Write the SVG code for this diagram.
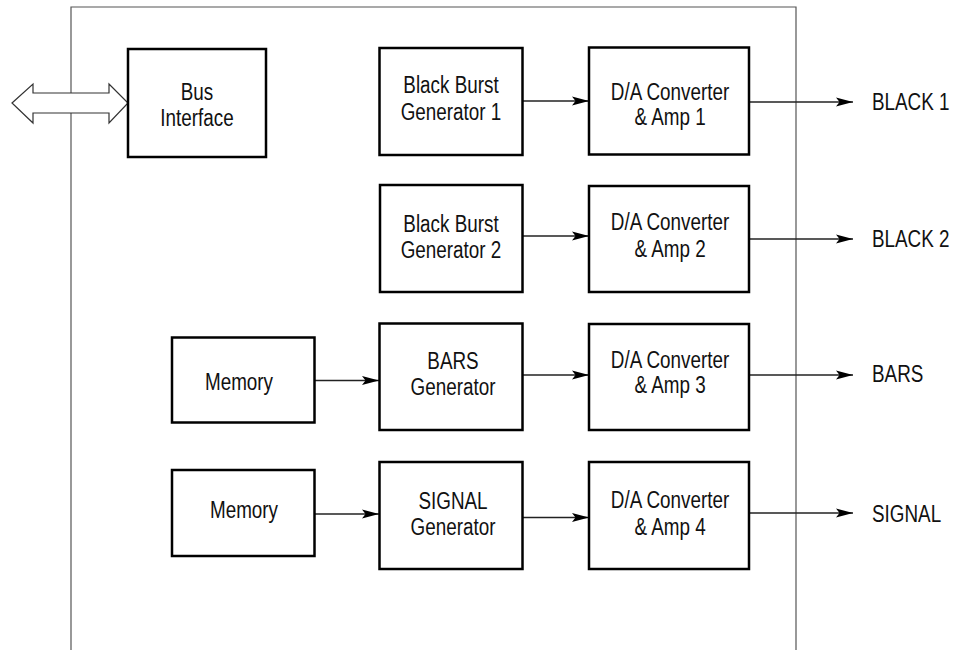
<svg xmlns="http://www.w3.org/2000/svg" width="967" height="650" viewBox="0 0 967 650">
<style>
.box{fill:#fff;stroke:#000;stroke-width:2.5}
.frame{fill:none;stroke:#555;stroke-width:1.2}
.wire{fill:none;stroke:#222;stroke-width:1.5}
text{font-family:"Liberation Sans",Arial,sans-serif;font-size:23px;fill:#111}
.c{text-anchor:middle}
</style>
<defs>
<marker id="ah" markerWidth="17" markerHeight="10" refX="17" refY="5" orient="auto" markerUnits="userSpaceOnUse">
<path d="M0,0.5 L17,5 L0,9.5 L3.5,5 z" fill="#000"/>
</marker>
</defs>
<rect width="967" height="650" fill="#fff"/>
<g id="frame">
<path class="frame" d="M71,650 L71,7 L796,7 L796,650"/>
</g>
<g id="connectors">
<path d="M12,103 L33,84 L33,93 L109,93 L109,84 L128,103 L109,123 L109,113 L33,113 L33,123 Z" fill="#fff" stroke="#333" stroke-width="1.2"/>
<line class="wire" x1="522" y1="101" x2="589" y2="101" marker-end="url(#ah)"/>
<line class="wire" x1="749" y1="102" x2="853" y2="102" marker-end="url(#ah)"/>
<line class="wire" x1="522" y1="236" x2="589" y2="236" marker-end="url(#ah)"/>
<line class="wire" x1="749" y1="239" x2="853" y2="239" marker-end="url(#ah)"/>
<line class="wire" x1="314" y1="380.5" x2="379" y2="380.5" marker-end="url(#ah)"/>
<line class="wire" x1="522" y1="375" x2="589" y2="375" marker-end="url(#ah)"/>
<line class="wire" x1="749" y1="375" x2="853" y2="375" marker-end="url(#ah)"/>
<line class="wire" x1="314" y1="514" x2="379" y2="514" marker-end="url(#ah)"/>
<line class="wire" x1="522" y1="517.5" x2="589" y2="517.5" marker-end="url(#ah)"/>
<line class="wire" x1="749" y1="513" x2="853" y2="513" marker-end="url(#ah)"/>
</g>
<g id="bus">
<rect class="box" x="128" y="49" width="138" height="108"/>
<text class="c" transform="translate(197,100) scale(0.82,1)">Bus</text>
<text class="c" transform="translate(197,126) scale(0.82,1)">Interface</text>
</g>
<g id="bbg1">
<rect class="box" x="379.5" y="48" width="143" height="107"/>
<text class="c" transform="translate(451,93) scale(0.82,1)">Black Burst</text>
<text class="c" transform="translate(451,120) scale(0.82,1)">Generator 1</text>
</g>
<g id="da1">
<rect class="box" x="589" y="47.5" width="160" height="107"/>
<text class="c" transform="translate(670,100) scale(0.82,1)">D/A Converter</text>
<text class="c" transform="translate(670,125) scale(0.82,1)">&amp; Amp 1</text>
</g>
<g id="bbg2">
<rect class="box" x="380" y="185" width="142.5" height="107"/>
<text class="c" transform="translate(451,231.5) scale(0.82,1)">Black Burst</text>
<text class="c" transform="translate(451,258) scale(0.82,1)">Generator 2</text>
</g>
<g id="da2">
<rect class="box" x="589" y="186" width="160" height="106"/>
<text class="c" transform="translate(670,230) scale(0.82,1)">D/A Converter</text>
<text class="c" transform="translate(670,256.5) scale(0.82,1)">&amp; Amp 2</text>
</g>
<g id="mem1">
<rect class="box" x="172" y="337.5" width="142.5" height="85"/>
<text class="c" transform="translate(239,390) scale(0.82,1)">Memory</text>
</g>
<g id="bars">
<rect class="box" x="379.5" y="323.5" width="143" height="106.5"/>
<text class="c" transform="translate(453,369) scale(0.82,1)">BARS</text>
<text class="c" transform="translate(453,395) scale(0.82,1)">Generator</text>
</g>
<g id="da3">
<rect class="box" x="589" y="324" width="160" height="106"/>
<text class="c" transform="translate(670,368) scale(0.82,1)">D/A Converter</text>
<text class="c" transform="translate(670,393) scale(0.82,1)">&amp; Amp 3</text>
</g>
<g id="mem2">
<rect class="box" x="172" y="470" width="142.5" height="86"/>
<text class="c" transform="translate(244,518) scale(0.82,1)">Memory</text>
</g>
<g id="signal">
<rect class="box" x="379.5" y="462" width="143" height="107"/>
<text class="c" transform="translate(453,509) scale(0.82,1)">SIGNAL</text>
<text class="c" transform="translate(453,535) scale(0.82,1)">Generator</text>
</g>
<g id="da4">
<rect class="box" x="589" y="462" width="160" height="107"/>
<text class="c" transform="translate(670,508) scale(0.82,1)">D/A Converter</text>
<text class="c" transform="translate(670,535) scale(0.82,1)">&amp; Amp 4</text>
</g>
<g id="outputs">
<text transform="translate(872,110) scale(0.82,1)">BLACK 1</text>
<text transform="translate(872,247) scale(0.82,1)">BLACK 2</text>
<text transform="translate(872,382) scale(0.82,1)">BARS</text>
<text transform="translate(872,521.5) scale(0.82,1)">SIGNAL</text>
</g>
</svg>
